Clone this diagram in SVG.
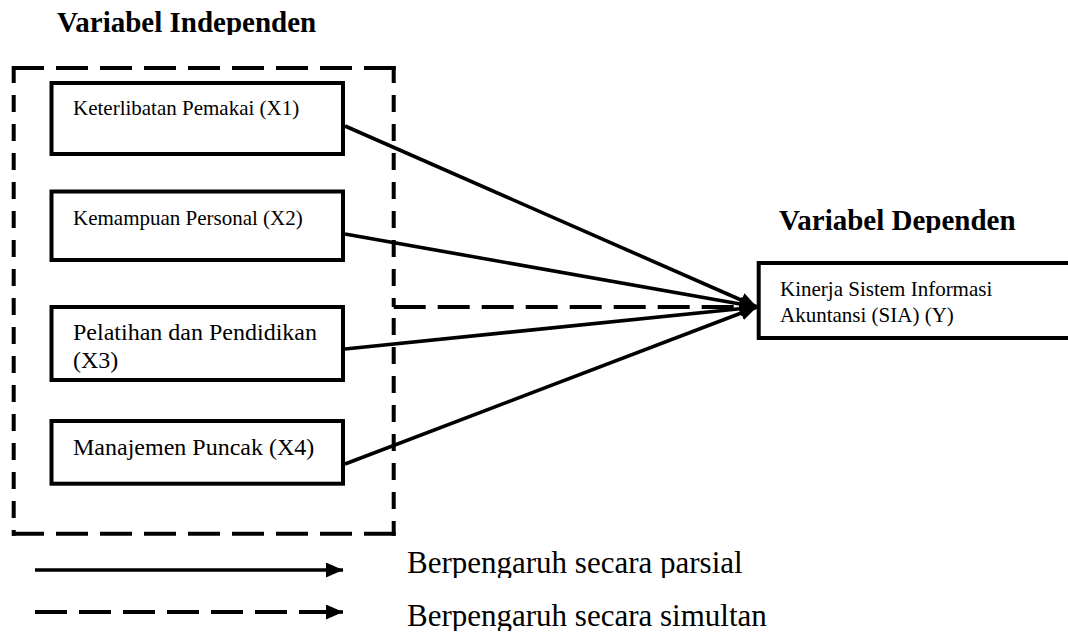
<svg xmlns="http://www.w3.org/2000/svg" width="1068" height="636" viewBox="0 0 1068 636">
<style>
.box{fill:#fff;stroke:#000;stroke-width:4}
.t{font-family:"Liberation Serif","Times New Roman",serif;fill:#000}
.node{font-size:21px}
.big{font-size:24px}
.title{font-size:29px;font-weight:bold}
.leg{font-size:31px}
.solid{stroke:#000;stroke-width:3.6;fill:none}
.dh{stroke:#000;stroke-width:4;fill:none;stroke-dasharray:32 12}
.dv{stroke:#000;stroke-width:4;fill:none;stroke-dasharray:17 12}
</style>
<defs>
<marker id="ah" viewBox="0 0 17 15" refX="17" refY="7.5" markerWidth="17" markerHeight="15" markerUnits="userSpaceOnUse" orient="auto">
<path d="M0,0 L17,7.5 L0,15 Z" fill="#000"/>
</marker>
<clipPath id="c1"><rect x="0" y="0" width="1068" height="35"/></clipPath>
<clipPath id="c2"><rect x="0" y="190" width="1068" height="43"/></clipPath>
<clipPath id="c3"><rect x="0" y="540" width="1068" height="38"/></clipPath>
<clipPath id="c4"><rect x="0" y="590" width="1068" height="41"/></clipPath>
</defs>

<g id="titles">
<text class="t title" x="57" y="32" clip-path="url(#c1)">Variabel Independen</text>
<text class="t title" x="779" y="230" clip-path="url(#c2)">Variabel Dependen</text>
</g>

<g id="independent-group">
<line class="dh" x1="12" y1="68" x2="395.7" y2="68"/>
<line class="dh" x1="12" y1="533.7" x2="395.7" y2="533.7"/>
<line class="dv" x1="13.7" y1="66" x2="13.7" y2="535.7"/>
<line class="dv" x1="393.7" y1="66" x2="393.7" y2="307"/>
<line class="dv" x1="393.7" y1="318" x2="393.7" y2="535.7"/>
</g>

<g id="x1">
<rect class="box" x="51.5" y="83" width="291.5" height="71"/>
<text class="t node" x="73" y="115">Keterlibatan Pemakai (X1)</text>
</g>
<g id="x2">
<rect class="box" x="51.5" y="191.5" width="291.5" height="68.5"/>
<text class="t node" x="73" y="225">Kemampuan Personal (X2)</text>
</g>
<g id="x3">
<rect class="box" x="51.5" y="307" width="291.5" height="73"/>
<text class="t big" x="73" y="340">Pelatihan dan Pendidikan</text>
<text class="t big" x="73" y="368">(X3)</text>
</g>
<g id="x4">
<rect class="box" x="51.5" y="421" width="291.5" height="62.7"/>
<text class="t big" x="73" y="455">Manajemen Puncak (X4)</text>
</g>
<g id="y">
<rect class="box" x="758.7" y="263" width="320" height="75"/>
<text class="t node" x="780" y="296">Kinerja Sistem Informasi</text>
<text class="t node" x="780" y="322">Akuntansi (SIA) (Y)</text>
</g>

<g id="connectors">
<line class="dh" x1="393.7" y1="307" x2="745" y2="307"/>
<line class="solid" x1="345" y1="126" x2="757" y2="307" marker-end="url(#ah)"/>
<line class="solid" x1="345" y1="234" x2="757" y2="307" marker-end="url(#ah)"/>
<line class="solid" x1="345" y1="349" x2="757" y2="307" marker-end="url(#ah)"/>
<line class="solid" x1="345" y1="464" x2="757" y2="307" marker-end="url(#ah)"/>
<line class="solid" x1="740" y1="307" x2="757" y2="307" marker-end="url(#ah)"/>
</g>

<g id="legend">
<line class="solid" x1="35" y1="570" x2="343" y2="570" marker-end="url(#ah)"/>
<line class="dh" x1="35" y1="612" x2="330" y2="612"/>
<line class="solid" x1="325" y1="612" x2="343" y2="612" marker-end="url(#ah)"/>
<text class="t leg" x="407" y="573" clip-path="url(#c3)">Berpengaruh secara parsial</text>
<text class="t leg" x="407" y="626" clip-path="url(#c4)">Berpengaruh secara simultan</text>
</g>
</svg>
